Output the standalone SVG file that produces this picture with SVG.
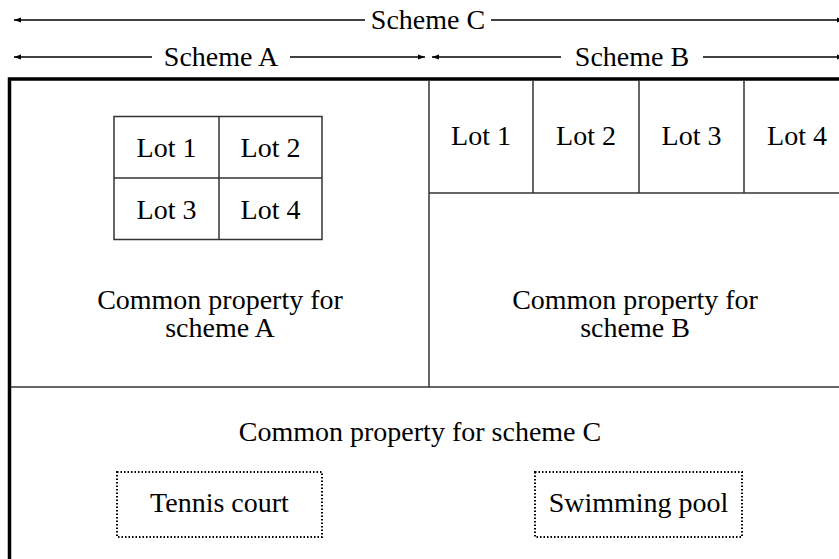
<svg xmlns="http://www.w3.org/2000/svg" width="839" height="559" viewBox="0 0 839 559">
<style>
text{font-family:"Liberation Serif","Times New Roman",serif;font-size:28px;fill:#000;text-anchor:middle}
.thin{fill:none;stroke:#333;stroke-width:1.5}
.dim{stroke:#000;stroke-width:1.3;fill:none}
.dot{fill:none;stroke:#000;stroke-width:2;stroke-dasharray:1.5 2}
</style>
<defs>
<marker id="ah" viewBox="0 0 10 10" refX="10" refY="5" markerWidth="7" markerHeight="7" orient="auto-start-reverse" markerUnits="userSpaceOnUse">
<path d="M0,1.5 L10,5 L0,8.5 Z" fill="#000"/>
</marker>
</defs>
<rect width="839" height="559" fill="#fff"/>
<g id="connectors">
<line class="dim" x1="14" y1="20" x2="365" y2="20" marker-start="url(#ah)"/>
<line class="dim" x1="491" y1="20" x2="844" y2="20" marker-end="url(#ah)"/>
<line class="dim" x1="14" y1="57" x2="152" y2="57" marker-start="url(#ah)"/>
<line class="dim" x1="290" y1="57" x2="425" y2="57" marker-end="url(#ah)"/>
<line class="dim" x1="432" y1="57" x2="561" y2="57" marker-start="url(#ah)"/>
<line class="dim" x1="703" y1="57" x2="844" y2="57" marker-end="url(#ah)"/>
</g>
<g id="labels">
<text x="428" y="29">Scheme C</text>
<text x="221" y="66">Scheme A</text>
<text x="632" y="66">Scheme B</text>
</g>
<g id="outer">
<rect x="9.5" y="79" width="860" height="520" fill="none" stroke="#000" stroke-width="3.5"/>
<line class="thin" x1="429" y1="80" x2="429" y2="387"/>
<line class="thin" x1="11" y1="387" x2="839" y2="387"/>
</g>
<g id="schemeA-lots">
<rect class="thin" x="114" y="116.5" width="208" height="123"/>
<line class="thin" x1="219" y1="116.5" x2="219" y2="239.5"/>
<line class="thin" x1="114" y1="178" x2="322" y2="178"/>
<text x="166.5" y="157">Lot 1</text>
<text x="270.5" y="157">Lot 2</text>
<text x="166.5" y="219">Lot 3</text>
<text x="270.5" y="219">Lot 4</text>
</g>
<g id="schemeB-lots">
<line class="thin" x1="429" y1="193" x2="839" y2="193"/>
<line class="thin" x1="533" y1="80" x2="533" y2="193"/>
<line class="thin" x1="639" y1="80" x2="639" y2="193"/>
<line class="thin" x1="744" y1="80" x2="744" y2="193"/>
<text x="481" y="145">Lot 1</text>
<text x="586" y="145">Lot 2</text>
<text x="691.5" y="145">Lot 3</text>
<text x="797" y="145">Lot 4</text>
</g>
<g id="commonA">
<text x="220" y="309">Common property for</text>
<text x="220" y="337">scheme A</text>
</g>
<g id="commonB">
<text x="635" y="309">Common property for</text>
<text x="635" y="337">scheme B</text>
</g>
<g id="commonC">
<text x="420" y="441">Common property for scheme C</text>
</g>
<g id="tennis">
<rect class="dot" x="117" y="472" width="205" height="65"/>
<text x="219.5" y="512">Tennis court</text>
</g>
<g id="pool">
<rect class="dot" x="535" y="472" width="207" height="65"/>
<text x="638.5" y="512">Swimming pool</text>
</g>
</svg>
